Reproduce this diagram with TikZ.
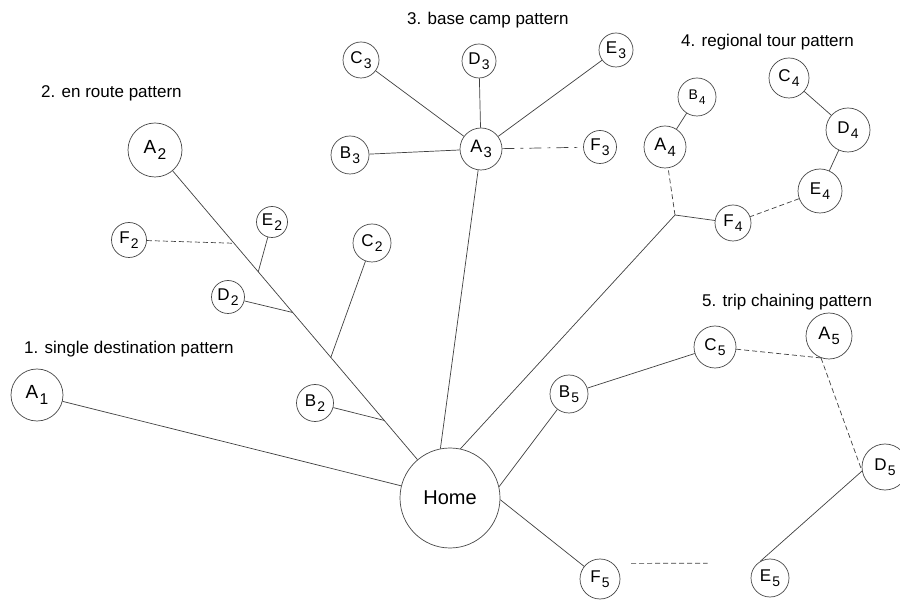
\documentclass[tikz,border=0pt]{standalone}
\usepackage{fontspec}
\setmainfont{Liberation Sans}
\usetikzlibrary{calc}
\newcommand{\lsub}[1]{\kern1.2pt\raisebox{-0.6ex}{\scalebox{0.82}{#1}}}
\begin{document}
\begin{tikzpicture}[x=1pt,y=-1pt,
  place/.style={circle,draw=black!72,line width=0.7pt,inner sep=0pt,
     font=\fontsize{17}{17}\selectfont},
  link/.style={draw=black!75,line width=0.7pt},
  faint/.style={link,dash pattern=on 5pt off 3pt},
  title/.style={anchor=west,inner sep=0pt,font=\fontsize{17}{20}\selectfont}]
\fill[white] (0,0) rectangle (900,601);
\useasboundingbox (0,0) rectangle (900,601);
% titles
\node[title] (t1) at (24,349) {1. single destination pattern};
\node[title] (t2) at (41,93) {2. en route pattern};
\node[title] (t3) at (407,20) {3. base camp pattern};
\node[title] (t4) at (681,42) {4. regional tour pattern};
\node[title] (t5) at (702,302) {5. trip chaining pattern};
% home
\node[place,minimum size=100pt,font=\fontsize{20}{20}\selectfont] (Home) at (450,498) {Home};
% 1
\node[place,minimum size=52pt,font=\fontsize{19}{19}\selectfont] (A1) at (37,395) {A\lsub{1}};
% 2
\node[place,minimum size=54pt,font=\fontsize{19}{19}\selectfont] (A2) at (155,150) {A\lsub{2}};
\node[place,minimum size=35pt] (F2) at (129,240) {F\lsub{2}};
\node[place,minimum size=31pt] (E2) at (272,222) {E\lsub{2}};
\node[place,minimum size=33pt] (D2) at (228,297) {D\lsub{2}};
\node[place,minimum size=38pt] (C2) at (372,243) {C\lsub{2}};
\node[place,minimum size=37pt] (B2) at (315,403) {B\lsub{2}};
% 3
\node[place,minimum size=42pt,font=\fontsize{18}{18}\selectfont] (A3) at (481,149) {A\lsub{3}};
\node[place,minimum size=38pt] (B3) at (350,155) {B\lsub{3}};
\node[place,minimum size=36pt] (C3) at (361,60) {C\lsub{3}};
\node[place,minimum size=34pt] (D3) at (479,61) {D\lsub{3}};
\node[place,minimum size=34pt] (E3) at (616,50) {E\lsub{3}};
\node[place,minimum size=33pt] (F3) at (600,147) {F\lsub{3}};
% 4
\node[place,minimum size=42pt,font=\fontsize{18}{18}\selectfont] (A4) at (665,147) {A\lsub{4}};
\node[place,minimum size=38pt,font=\fontsize{14}{14}\selectfont] (B4) at (697,97) {B\lsub{4}};
\node[place,minimum size=40pt] (C4) at (789,78) {C\lsub{4}};
\node[place,minimum size=44pt] (D4) at (848,130) {D\lsub{4}};
\node[place,minimum size=44pt] (E4) at (820,191) {E\lsub{4}};
\node[place,minimum size=36pt] (F4) at (733,223) {F\lsub{4}};
\coordinate (J4) at (675,215);
% 5
\node[place,minimum size=46pt,font=\fontsize{18}{18}\selectfont] (A5) at (829,336) {A\lsub{5}};
\node[place,minimum size=38pt] (B5) at (569,394) {B\lsub{5}};
\node[place,minimum size=42pt] (C5) at (715,347) {C\lsub{5}};
\node[place,minimum size=46pt] (D5) at (885,467) {D\lsub{5}};
\node[place,minimum size=38pt] (E5) at (770,578) {E\lsub{5}};
\node[place,minimum size=40pt] (F5) at (600,579) {F\lsub{5}};
% junctions on en-route line
\coordinate (jF) at ($(A2)!0.268!(Home)$);
\coordinate (jE) at ($(A2)!0.35!(Home)$);
\coordinate (jD) at ($(A2)!0.467!(Home)$);
\coordinate (jC) at ($(A2)!0.596!(Home)$);
\coordinate (jB) at ($(A2)!0.777!(Home)$);
% connectors
\draw[link] (A1) -- (Home);
\draw[link] (A2) -- (Home);
\draw[faint] (F2) -- (jF);
\draw[link] (E2) -- (jE);
\draw[link] (D2) -- (jD);
\draw[link] (C2) -- (jC);
\draw[link] (B2) -- (jB);
\draw[link] (A3) -- (Home.101);
\draw[link] (A3) -- (B3);
\draw[link] (A3) -- (C3);
\draw[link] (A3) -- (D3);
\draw[link] (A3) -- (E3);
\draw[faint,dash pattern=on 12pt off 6pt on 3pt off 6pt] (A3) -- (F3);
\draw[link] (Home.78) -- (J4);
\draw[faint] (J4) -- (A4);
\draw[link] (J4) -- (F4);
\draw[link] (A4) -- (B4);
\draw[link] (C4) -- (D4);
\draw[link] (D4) -- (E4);
\draw[faint] (E4) -- (F4);
\draw[link] (Home.13) -- (B5);
\draw[link] (B5) -- (C5);
\draw[faint] (C5) -- (A5.250);
\draw[faint] (A5.250) -- (D5.190);
\draw[link] (D5.190) -- (E5.120);
\draw[faint,shorten <=18pt,shorten >=50pt] (F5.50) -- (E5.130);
\draw[link] (Home.-2) -- (F5);
\end{tikzpicture}
\end{document}
